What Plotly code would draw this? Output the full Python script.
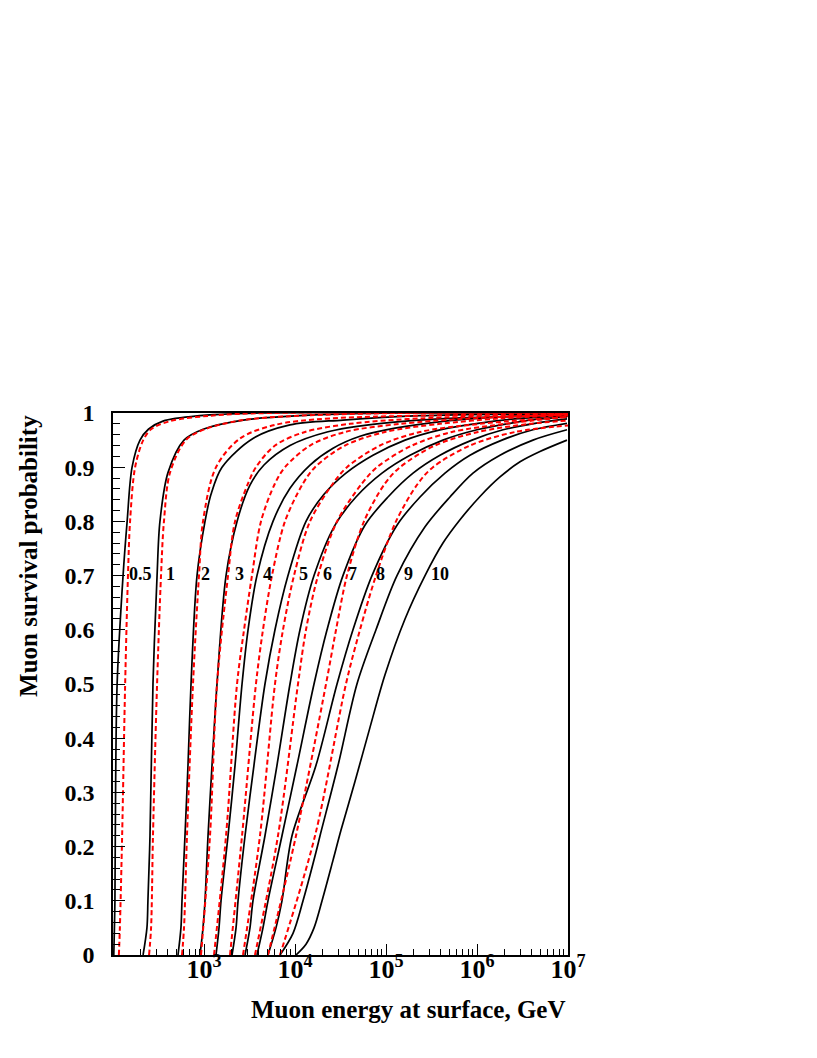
import math
import plotly.graph_objects as go

# depth labels (km w.e.) and their label energies (GeV)
depths = ["0.5", "1", "2", "3", "4", "5", "6", "7", "8", "9", "10"]
label_energy = [198, 423, 1050, 2426, 5047, 12250, 22490, 43350, 88100, 174600, 391700]
label_prob = 0.703

# black solid curves: surface energy (GeV) and survival probability
black_E = {
    "0.5": [102, 105, 106, 111, 129, 143, 162, 198, 245, 354, 900, 4100, 1e7],
    "1": [214, 236, 242, 255, 275, 305, 328, 402, 603, 977, 2700, 11200, 1.4e5, 1e7],
    "2": [518, 558, 573, 618, 667, 720, 838, 1026, 1194, 1578, 3452, 8810, 33650, 236600, 1e7],
    "3": [904, 975, 1026, 1107, 1225, 1390, 1746, 2307, 3199, 4560, 8810, 22490, 79620,
          504700, 1e7],
    "4": [1355, 1462, 1538, 1837, 2193, 2618, 3048, 3819, 5728, 8810, 14620, 26180, 51760,
          125600, 444600, 1.79e6, 1e7],
    "5": [2032, 2249, 2366, 2825, 3540, 4677, 6026, 8375, 13210, 20840, 36300, 71940, 161800,
          391700, 1.026e6, 2.62e6, 1e7],
    "6": [2825, 3199, 3452, 4677, 6339, 8810, 11350, 16180, 27540, 46770, 90360, 183700, 422700,
          1e6, 2.31e6, 4.92e6, 9.75e6],
    "7": [3819, 4446, 5047, 7194, 10520, 16180, 22490, 33650, 58700, 105200, 198200, 391700,
          881000, 1.93e6, 4.34e6, 9.75e6],
    "8": [5047, 6180, 7194, 9270, 17020, 28970, 43350, 70150, 132100, 236600, 444600, 837500,
          1.88e6, 4.12e6, 9.75e6],
    "9": [6839, 9506, 12250, 17020, 18840, 29720, 47970, 77600, 132100, 268500, 504700, 903600,
          1.79e6, 4.12e6, 9.75e6],
    "10": [10250, 13210, 16180, 19820, 26180, 31990, 45600, 66700, 97500, 161800, 268500,
           422700, 650100, 1.079e6, 1.79e6, 2.97e6, 4.92e6, 9.75e6],
}
black_P = {
    "0.5": [0, 0.1, 0.22, 0.5, 0.7, 0.8, 0.9, 0.95, 0.97, 0.985, 0.995, 1.0, 1.0],
    "1": [0, 0.05, 0.1, 0.22, 0.5, 0.7, 0.8, 0.89, 0.95, 0.97, 0.987, 0.995, 1.0, 1.0],
    "2": [0, 0.05, 0.1, 0.22, 0.35, 0.5, 0.7, 0.8, 0.85, 0.9, 0.953, 0.978, 0.987, 0.995, 0.999],
    "3": [0, 0.05, 0.1, 0.22, 0.35, 0.5, 0.7, 0.8, 0.867, 0.904, 0.94, 0.965, 0.98, 0.99, 0.995],
    "4": [0, 0.05, 0.1, 0.22, 0.35, 0.5, 0.6, 0.7, 0.8, 0.861, 0.904, 0.935, 0.957, 0.972,
          0.985, 0.993, 0.997],
    "5": [0, 0.05, 0.1, 0.22, 0.35, 0.5, 0.6, 0.7, 0.8, 0.85, 0.889, 0.922, 0.95, 0.969, 0.981,
          0.989, 0.995],
    "6": [0, 0.05, 0.1, 0.22, 0.35, 0.5, 0.6, 0.7, 0.793, 0.845, 0.889, 0.922, 0.95, 0.969,
          0.981, 0.989, 0.993],
    "7": [0, 0.05, 0.1, 0.22, 0.35, 0.5, 0.6, 0.7, 0.793, 0.845, 0.889, 0.922, 0.95, 0.969,
          0.981, 0.989],
    "8": [0, 0.05, 0.1, 0.22, 0.35, 0.5, 0.6, 0.7, 0.793, 0.845, 0.889, 0.922, 0.95, 0.969,
          0.981],
    "9": [0, 0.04, 0.1, 0.19, 0.22, 0.35, 0.5, 0.6, 0.7, 0.79, 0.845, 0.889, 0.922, 0.95, 0.969],
    "10": [0, 0.02, 0.05, 0.1, 0.175, 0.23, 0.32, 0.42, 0.517, 0.62, 0.7, 0.76, 0.803, 0.846,
           0.882, 0.91, 0.929, 0.95],
}

# red dashed curves
red_E = {
    "0.5": [116, 119, 126, 136, 146, 154, 175, 215, 262, 424, 1170, 5400, 1e7],
    "1": [249, 262, 275, 305, 337, 363, 423, 631, 1020, 2700, 11200, 1.4e5, 1e7],
    "2": [573, 603, 650, 757, 881, 975, 1355, 2489, 6026, 24270, 1e7],
    "3": [927, 1164, 1390, 1837, 2193, 3048, 3724, 6026, 12880, 40180, 236600, 1e7],
    "4": [1288, 1746, 2307, 2754, 3365, 4227, 6026, 7762, 14620, 35400, 142600, 837500, 1e7],
    "5": [1931, 2618, 3724, 4446, 5585, 7762, 12250, 16600, 35400, 97500, 391700, 1.79e6, 1e7],
    "6": [2683, 4121, 6026, 7379, 9750, 14620, 26180, 37240, 85900, 236600, 1.079e6, 1e7],
    "7": [3631, 6501, 10790, 13210, 17900, 28970, 54450, 79620, 193200, 530900, 2.03e6, 1e7],
    "8": [5047, 10250, 21930, 28250, 37240, 57300, 97500, 142600, 345100, 1.026e6, 3.82e6,
          1e7],
    "9": [6839, 16600, 36300, 51760, 77600, 128800, 224900, 328100, 837500, 2.62e6, 1e7],
}
red_P = {
    "0.5": [0, 0.05, 0.22, 0.5, 0.7, 0.8, 0.9, 0.95, 0.97, 0.985, 0.995, 1.0, 1.0],
    "1": [0, 0.05, 0.22, 0.5, 0.7, 0.8, 0.89, 0.95, 0.97, 0.987, 0.995, 1.0, 1.0],
    "2": [0, 0.05, 0.22, 0.5, 0.7, 0.8, 0.9, 0.953, 0.978, 0.99, 0.998],
    "3": [0, 0.22, 0.5, 0.7, 0.8, 0.87, 0.9, 0.94, 0.965, 0.98, 0.99, 0.996],
    "4": [0, 0.22, 0.5, 0.6, 0.7, 0.8, 0.87, 0.9, 0.94, 0.965, 0.98, 0.99, 0.997],
    "5": [0, 0.22, 0.5, 0.6, 0.7, 0.8, 0.87, 0.9, 0.94, 0.965, 0.98, 0.99, 0.996],
    "6": [0, 0.22, 0.5, 0.6, 0.7, 0.8, 0.87, 0.9, 0.94, 0.965, 0.98, 0.993],
    "7": [0, 0.22, 0.5, 0.6, 0.7, 0.8, 0.87, 0.9, 0.94, 0.965, 0.98, 0.993],
    "8": [0, 0.22, 0.5, 0.6, 0.7, 0.8, 0.87, 0.9, 0.94, 0.965, 0.98, 0.986],
    "9": [0, 0.22, 0.5, 0.6, 0.7, 0.8, 0.87, 0.9, 0.94, 0.965, 0.977],
}

FONT = "Liberation Serif, Times New Roman, serif"

fig = go.Figure()

for d in depths:
    fig.add_trace(go.Scatter(
        x=black_E[d], y=black_P[d], mode="lines",
        line=dict(color="black", width=1.7, shape="spline", smoothing=0.9),
        showlegend=False, hoverinfo="skip",
    ))

for d in red_E:
    fig.add_trace(go.Scatter(
        x=red_E[d], y=red_P[d], mode="lines",
        line=dict(color="#ff0000", width=2, dash="5px,3px", shape="spline", smoothing=0.9),
        showlegend=False, hoverinfo="skip",
    ))

# annotations on a log axis take log10 positions
for d, e in zip(depths, label_energy):
    fig.add_annotation(x=math.log10(e), y=label_prob, text="<b>%s</b>" % d, showarrow=False,
                       font=dict(family=FONT, size=18, color="black"))

minor_x = [k * 10 ** n for n in range(2, 7) for k in range(2, 10)]

fig.update_xaxes(
    type="log", range=[2, 7],
    tickvals=[1e3, 1e4, 1e5, 1e6, 1e7],
    ticktext=["10<sup>3</sup>", "10<sup>4</sup>", "10<sup>5</sup>", "10<sup>6</sup>",
              "10<sup>7</sup>"],
    ticks="inside", ticklen=11, tickwidth=1.3, tickcolor="black",
    minor=dict(tickmode="array", tickvals=minor_x, ticks="inside", ticklen=6,
               tickwidth=1.3, tickcolor="black", showgrid=False),
    showline=True, linecolor="black", linewidth=1.6, mirror=True,
    showgrid=False, zeroline=False, ticklabelstandoff=-10,
    tickfont=dict(family=FONT, size=26, color="black", weight="bold"),
)
fig.update_yaxes(
    range=[0, 1], tickvals=[i / 10 for i in range(11)],
    ticktext=["0", "0.1", "0.2", "0.3", "0.4", "0.5", "0.6", "0.7", "0.8", "0.9", "1"],
    ticks="inside", ticklen=12, tickwidth=1.3, tickcolor="black",
    minor=dict(dtick=0.02, ticks="inside", ticklen=7, tickwidth=1.3,
               tickcolor="black", showgrid=False),
    showline=True, linecolor="black", linewidth=1.6, mirror=True,
    showgrid=False, zeroline=False, ticklabelstandoff=12,
    tickfont=dict(family=FONT, size=24, color="black", weight="bold"),
)

fig.add_annotation(xref="paper", yref="paper", x=1.0, y=-0.101, xanchor="right",
                   yanchor="middle", showarrow=False,
                   text="<b>Muon energy at surface, GeV</b>",
                   font=dict(family=FONT, size=25, color="black"))
fig.add_annotation(xref="paper", yref="paper", x=-0.187, y=1.0, xanchor="center",
                   yanchor="top", textangle=-90, showarrow=False,
                   text="<b>Muon survival probability</b>",
                   font=dict(family=FONT, size=25, color="black"))

# page body adds an 8 px offset, so the figure is 8 px smaller on each side
fig.update_layout(
    width=809, height=1042,
    margin=dict(l=105, r=249, t=405, b=95),
    paper_bgcolor="white", plot_bgcolor="white",
)

fig.write_html("out.html")
